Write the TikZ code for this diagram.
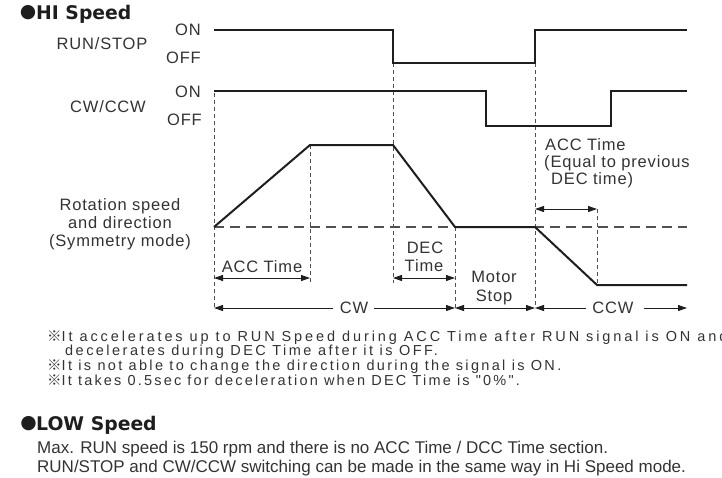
\documentclass[tikz,border=0pt]{standalone}
\usepackage{fontspec}
\setmainfont{Liberation Sans}
\newfontfamily\lblfont[LetterSpace=5]{Liberation Sans}
\newfontfamily\notefont{Liberation Sans}
\newfontfamily\headfont{DejaVu Sans}
\newfontfamily\refmark{Noto Sans CJK KR}
\usetikzlibrary{arrows.meta}
\definecolor{ink}{HTML}{1E1E1E}
\definecolor{txt}{HTML}{333333}
\definecolor{guidegray}{HTML}{505050}
\begin{document}
\begin{tikzpicture}[x=1pt,y=-1pt,
  >={Triangle[length=9pt,width=6pt]},
  sig/.style={ink, line width=2pt, line join=miter},
  guide/.style={guidegray, line width=0.9pt, dash pattern=on 4pt off 3pt},
  zero/.style={guidegray, line width=1.3pt, dash pattern=on 10pt off 6pt},
  dim/.style={ink, line width=0.9pt},
  lbl/.style={font=\lblfont\fontsize{16.5}{18}\selectfont, text=txt, inner sep=0pt, text height=11.9pt, text depth=0pt},
  note/.style={font=\notefont\fontsize{14.5}{15}\selectfont, text=txt, inner sep=0pt, anchor=west, text height=10.4pt, text depth=0pt},
  body/.style={font=\fontsize{17}{18}\selectfont, text=txt, inner sep=0pt, anchor=west, text height=12.2pt, text depth=0pt},
  head/.style={font=\headfont\bfseries\fontsize{18.8}{22}\selectfont, text=ink, inner sep=0pt, anchor=west, text height=13.7pt, text depth=0pt},
  dot/.style={font=\headfont\bfseries\fontsize{18.8}{22}\selectfont, text=ink, inner sep=0pt}
]
\useasboundingbox (0,0) rectangle (722,477);

% ---------- titles ----------
\node[dot] (hidot) at (28,13) {●};
\node[head] (hititle) at (36,13) {HI Speed};

% ---------- left labels ----------
\node[lbl] (runstop) at (102,44) {RUN/STOP};
\node[lbl, anchor=east] (rson) at (201,30) {ON};
\node[lbl, anchor=east] (rsoff) at (201,58) {OFF};
\node[lbl] (cwccw) at (108,107) {CW/CCW};
\node[lbl, anchor=east] (ccon) at (201,92) {ON};
\node[lbl, anchor=east] (ccoff) at (202,120) {OFF};
\node[lbl] (rot1) at (120,205) {Rotation speed};
\node[lbl] (rot2) at (120,223) {and direction};
\node[lbl] (rot3) at (120,241) {(Symmetry mode)};

% ---------- key coordinates ----------
\coordinate (t0) at (214,227);
\coordinate (t1) at (310,145);
\coordinate (t2) at (393,145);
\coordinate (t3) at (455,227);
\coordinate (t4) at (535,227);
\coordinate (t5) at (597,285);
\coordinate (t6) at (687,285);

% ---------- guides ----------
\draw[guide] (214,93) -- (214,308);
\draw[guide] (t1) -- (310,282);
\draw[guide] (393,63) -- (393,283);
\draw[guide] (t3) -- (455,308);
\draw[guide] (535,63) -- (535,308);
\draw[guide] (597,209) -- (t5);
\draw[zero] (t0) -- (687,227);

% ---------- signals ----------
\draw[sig] (214,30) -- (393,30) -- (393,63) -- (535,63) -- (535,30) -- (687,30);
\draw[sig] (214,91) -- (486,91) -- (486,126) -- (611,126) -- (611,91) -- (687,91);
\draw[sig] (t0) -- (t1) -- (t2) -- (t3) -- (t4) -- (t5) -- (t6);

% ---------- dimension labels ----------
\node[lbl] (acc) at (262,267) {ACC Time};
\draw[dim,<->] (214,278) coordinate (a0) -- (310,278) coordinate (a1);
\node[lbl] (dec1) at (425,248) {DEC};
\node[lbl] (dec2) at (424,266) {Time};
\draw[dim,<->] (393,278) coordinate (d0) -- (455,278) coordinate (d1);
\node[lbl] (ms1) at (494,277) {Motor};
\node[lbl] (ms2) at (494,296) {Stop};
\draw[dim,<->] (455,308) coordinate (m0) -- (535,308) coordinate (m1);
\node[lbl] (cw) at (354,308) {CW};
\coordinate (cwl) at (214,308);
\coordinate (cwr) at (455,308);
\draw[dim,->] ([xshift=-7pt]cw.west) -- (cwl);
\draw[dim,->] ([xshift=6pt]cw.east) -- (cwr);
\node[lbl] (ccw) at (613,308) {CCW};
\coordinate (ccwl) at (535,308);
\coordinate (ccwr) at (687,308);
\draw[dim,->] ([xshift=-6pt]ccw.west) -- (ccwl);
\draw[dim,->] ([xshift=10pt]ccw.east) -- (ccwr);
\node[lbl, anchor=west] (racc1) at (545,145) {ACC Time};
\node[lbl, anchor=west] (racc2) at (544,162) {(Equal to previous};
\node[lbl, anchor=west] (racc3) at (551,179) {DEC time)};
\draw[dim,<->] (535,209) coordinate (r0) -- (597,209) coordinate (r1);

% ---------- notes ----------
\node[note] (n1) at (47,336) {\addfontfeatures{LetterSpace=20}{\refmark ※}It accelerates up to RUN Speed during ACC Time after RUN signal is ON and};
\node[note] (n2) at (65,350.5) {\addfontfeatures{LetterSpace=17}decelerates during DEC Time after it is OFF.};
\node[note] (n3) at (47,365.5) {\addfontfeatures{LetterSpace=16}{\refmark ※}It is not able to change the direction during the signal is ON.};
\node[note] (n4) at (47,380.5) {\addfontfeatures{LetterSpace=15}{\refmark ※}It takes 0.5sec for deceleration when DEC Time is "0\%".};

% ---------- LOW speed ----------
\node[dot] (lowdot) at (28.5,424) {●};
\node[head] (lowtitle) at (36,424) {LOW Speed};
\node[body] (low1) at (37,447.5) {Max. RUN speed is 150 rpm and there is no ACC Time / DCC Time section.};
\node[body] (low2) at (37,466) {RUN/STOP and CW/CCW switching can be made in the same way in Hi Speed mode.};
\end{tikzpicture}
\end{document}
